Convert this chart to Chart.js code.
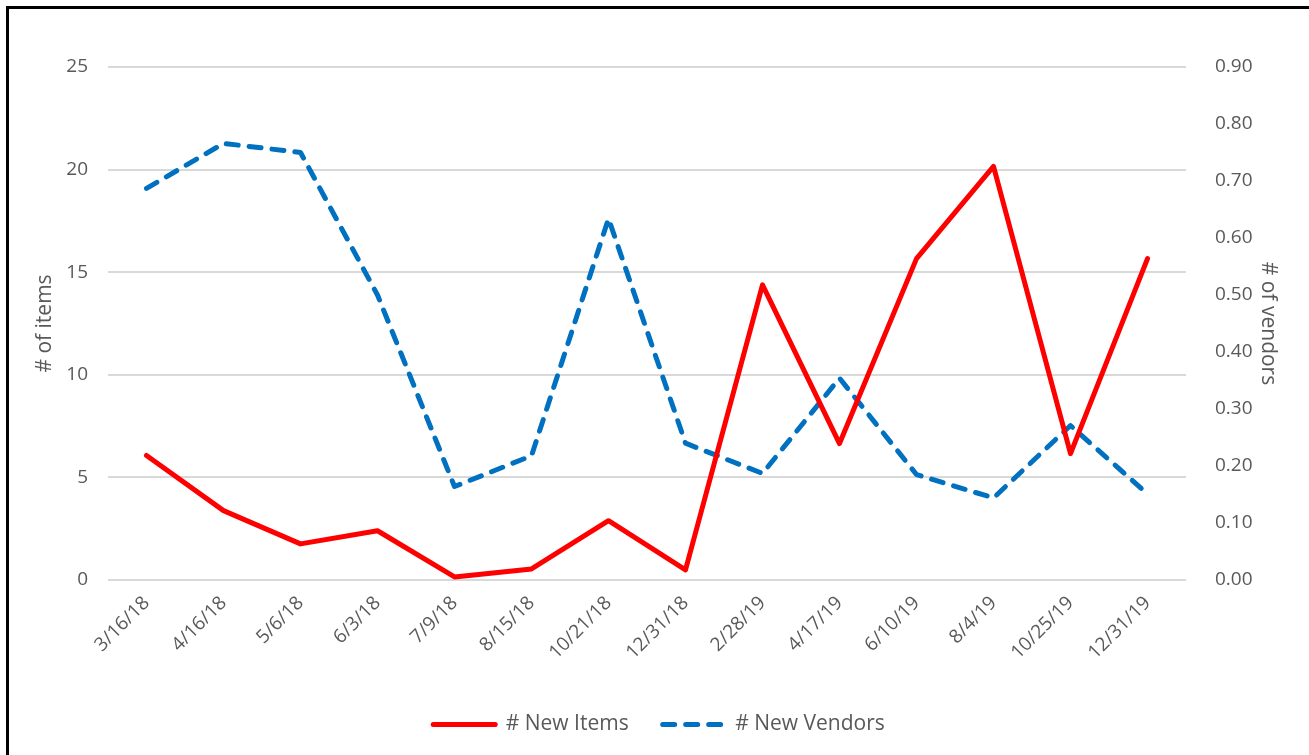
<!DOCTYPE html>
<html>
<head>
<meta charset="utf-8">
<script src="https://cdn.jsdelivr.net/npm/chart.js@4.4.1/dist/chart.umd.min.js"></script>
<style>
  html, body { margin: 0; padding: 0; background: #fff; overflow: hidden; }
  .frame {
    position: absolute; left: 6px; top: 6px;
    width: 1310px; height: 760px;
    border-left: 3px solid #000; border-top: 3px solid #000;
  }
  .wrap { position: absolute; left: 9px; top: 9px; width: 1300px; height: 746px; }
</style>
</head>
<body>
<div class="frame"></div>
<div class="wrap"><canvas id="chart"></canvas></div>
<script>
const dates = ['3/16/18', '4/16/18', '5/6/18', '6/3/18', '7/9/18', '8/15/18', '10/21/18',
  '12/31/18', '2/28/19', '4/17/19', '6/10/19', '8/4/19', '10/25/19', '12/31/19'];
const newItems = [6.07, 3.38, 1.76, 2.4, 0.15, 0.54, 2.89, 0.49, 14.38, 6.65, 15.66, 20.16, 6.16, 15.66];
const newVendors = [0.687, 0.766, 0.75, 0.5, 0.164, 0.218, 0.634, 0.24, 0.187, 0.354, 0.185, 0.144, 0.271, 0.151];

const grey = '#595959';
const font = 'Open Sans, Liberation Sans, sans-serif';

// legend with the dataset's own dash pattern (point style drops it)
function legendLabels(chart) {
  return Chart.defaults.plugins.legend.labels.generateLabels(chart).map((item, i) => ({
    ...item,
    lineDash: chart.data.datasets[i].borderDash || [],
    lineCap: 'round',
    lineWidth: 5
  }));
}

new Chart(document.getElementById('chart'), {
  type: 'line',
  data: {
    labels: dates,
    datasets: [
      {
        label: '# New Items',
        data: newItems,
        yAxisID: 'y',
        borderColor: '#ff0000',
        backgroundColor: '#ff0000',
        borderWidth: 5,
        borderJoinStyle: 'round',
        borderCapStyle: 'round',
        pointRadius: 0,
        tension: 0
      },
      {
        label: '# New Vendors',
        data: newVendors,
        yAxisID: 'y1',
        borderColor: '#0070c0',
        backgroundColor: '#0070c0',
        borderWidth: 5,
        borderDash: [12, 11],
        borderCapStyle: 'round',
        borderJoinStyle: 'round',
        pointRadius: 0,
        tension: 0
      }
    ]
  },
  options: {
    responsive: true,
    maintainAspectRatio: false,
    animation: false,
    layout: { padding: { top: 58, bottom: 10, left: 0, right: 0 } },
    plugins: {
      tooltip: { enabled: false },
      legend: {
        position: 'bottom',
        labels: {
          usePointStyle: true,
          pointStyle: 'line',
          pointStyleWidth: 62,
          color: grey,
          padding: 34,
          font: { family: font, size: 21 },
          generateLabels: legendLabels
        }
      }
    },
    scales: {
      x: {
        offset: true,
        grid: { display: false },
        border: { display: false },
        ticks: {
          color: grey,
          font: { family: font, size: 19 },
          minRotation: 45,
          maxRotation: 45,
          padding: 4
        },
        afterFit: scale => { scale.height = 100; }
      },
      y: {
        position: 'left',
        min: 0,
        max: 25,
        grid: { color: '#d9d9d9', lineWidth: 2, drawTicks: false },
        border: { display: false },
        ticks: {
          stepSize: 5,
          color: grey,
          padding: 20,
          font: { family: font, size: 19 }
        },
        title: {
          display: true,
          text: '# of items',
          color: grey,
          padding: { top: 23, bottom: 0 },
          font: { family: font, size: 21 }
        },
        afterFit: scale => { scale.width = 99; }
      },
      y1: {
        position: 'right',
        min: 0,
        max: 0.9,
        grid: { display: false },
        border: { display: false },
        ticks: {
          stepSize: 0.1,
          color: grey,
          padding: 21,
          font: { family: font, size: 19 },
          callback: v => Number(v).toFixed(2)
        },
        title: {
          display: true,
          text: '# of vendors',
          color: grey,
          padding: { top: 28, bottom: 0 },
          font: { family: font, size: 21 }
        },
        afterFit: scale => { scale.width = 123; }
      }
    }
  }
});
</script>
</body>
</html>
